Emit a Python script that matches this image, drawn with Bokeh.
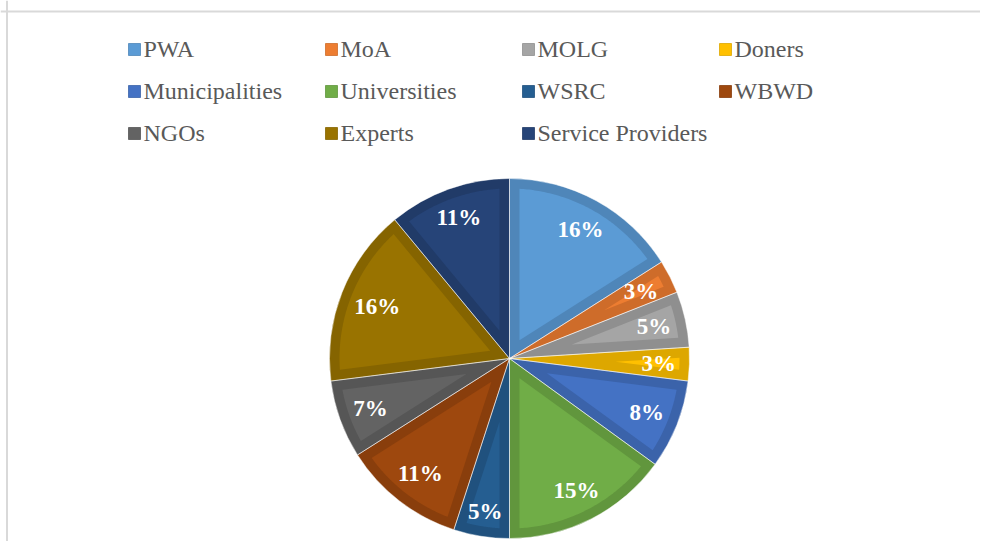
import numpy as np
from bokeh.plotting import figure
from bokeh.models import Range1d, ColumnDataSource, Span
from bokeh.core.properties import value
from bokeh.embed import file_html
from bokeh.resources import INLINE

# ---- data ----
categories = ["PWA", "MoA", "MOLG", "Doners", "Municipalities", "Universities",
              "WSRC", "WBWD", "NGOs", "Experts", "Service Providers"]
shares = [16, 3, 5, 3, 8, 15, 5, 11, 7, 16, 11]
colors = ["#5B9BD5", "#ED7D31", "#A5A5A5", "#FFC000", "#4472C4", "#70AD47",
          "#255E91", "#9E480E", "#636363", "#997300", "#264478"]

# ---- layout ----
W, H = 980, 541
CX, CY, R = 509, 183, 180
BAND = 10
LABEL_RIN = 167          # labels placed "inside end": box corner touches this radius
LABEL_PX = 23
FONT = "Liberation Serif"


def darken(hexc, f=0.87):
    h = hexc.lstrip("#")
    r, g, b = (int(h[i:i + 2], 16) for i in (0, 2, 4))
    return "#%02x%02x%02x" % (int(r * f), int(g * f), int(b * f))


band_colors = [darken(c) for c in colors]

frac = np.array(shares, dtype=float) / sum(shares)
cum = np.cumsum(frac)
prev = cum - frac
start = np.pi / 2 - 2 * np.pi * prev
end = np.pi / 2 - 2 * np.pi * cum
mid = (start + end) / 2

p = figure(width=W, height=H, x_range=Range1d(0, W), y_range=Range1d(0, H),
           output_backend="svg", toolbar_location=None, min_border=0,
           x_axis_location=None, y_axis_location=None, outline_line_color=None,
           background_fill_color="white", border_fill_color="white")
p.grid.visible = False

# outer frame lines (chart area border, cropped in the reference)
p.add_layout(Span(location=530, dimension="width", line_color="#d9d9d9", line_width=2))
p.add_layout(Span(location=6.5, dimension="height", line_color="#d9d9d9", line_width=2))

wsrc = ColumnDataSource(dict(start=start, end=end, band=band_colors, fill=colors, cat=categories))
p.wedge(x=CX, y=CY, radius=R, start_angle="start", end_angle="end", direction="clock",
        source=wsrc, fill_color="band", line_color=None)

# inner (lighter) region of each slice, inset by BAND pixels
xs, ys = [], []
rho = R - BAND
t = np.sqrt(rho ** 2 - BAND ** 2)
delta = np.arctan2(BAND, t)
for a2, a1 in zip(start, end):
    half = (a2 - a1) / 2
    m = (a1 + a2) / 2
    apex = BAND / np.sin(half)
    arc = np.linspace(a1 + delta, a2 - delta, 80)
    xs.append([CX + apex * np.cos(m)] + list(CX + rho * np.cos(arc)))
    ys.append([CY + apex * np.sin(m)] + list(CY + rho * np.sin(arc)))
p.patches(xs, ys, fill_color=colors, line_color=None)

# thin light separators
p.wedge(x=CX, y=CY, radius=R, start_angle="start", end_angle="end", direction="clock",
        source=wsrc, fill_color=None, line_color="white", line_width=0.8, line_alpha=0.55)

# percentage labels, "inside end" placement
texts = ["%d%%" % s for s in shares]
lx, ly = [], []
for tx, m in zip(texts, mid):
    ux, uy = np.cos(m), np.sin(m)
    hw = (0.5 * (len(tx) - 1) + 1.0) * LABEL_PX / 2
    hh = 9
    cx_, cy_ = np.sign(ux) * hw, np.sign(uy) * hh
    dot = ux * cx_ + uy * cy_
    r = -dot + np.sqrt(dot ** 2 - (cx_ ** 2 + cy_ ** 2) + LABEL_RIN ** 2)
    lx.append(CX + r * ux)
    ly.append(CY + r * uy)
lsrc = ColumnDataSource(dict(x=lx, y=ly, t=texts))
p.text(x="x", y="y", text="t", source=lsrc, text_align="center", text_baseline="middle",
       text_color="white", text_font=value(FONT), text_font_style="bold",
       text_font_size="%dpx" % LABEL_PX)

# legend (4 columns x 3 rows)
ncol = 4
idx = np.arange(len(categories))
col = idx % ncol
row = idx // ncol
sq_x = 134 + 197 * col
sq_y = 492 - 42 * row
gsrc = ColumnDataSource(dict(x=sq_x, y=sq_y, tx=sq_x + 9, ty=sq_y + 1,
                             c=colors, b=band_colors, cat=categories))
p.rect(x="x", y="y", width=12, height=12, source=gsrc, fill_color="c", line_color="b",
       line_width=0.8)
p.text(x="tx", y="ty", text="cat", source=gsrc, text_align="left", text_baseline="middle",
       text_color="#595959", text_font=value(FONT), text_font_size="24px")

open("out.html", "w").write(file_html(p, INLINE))
